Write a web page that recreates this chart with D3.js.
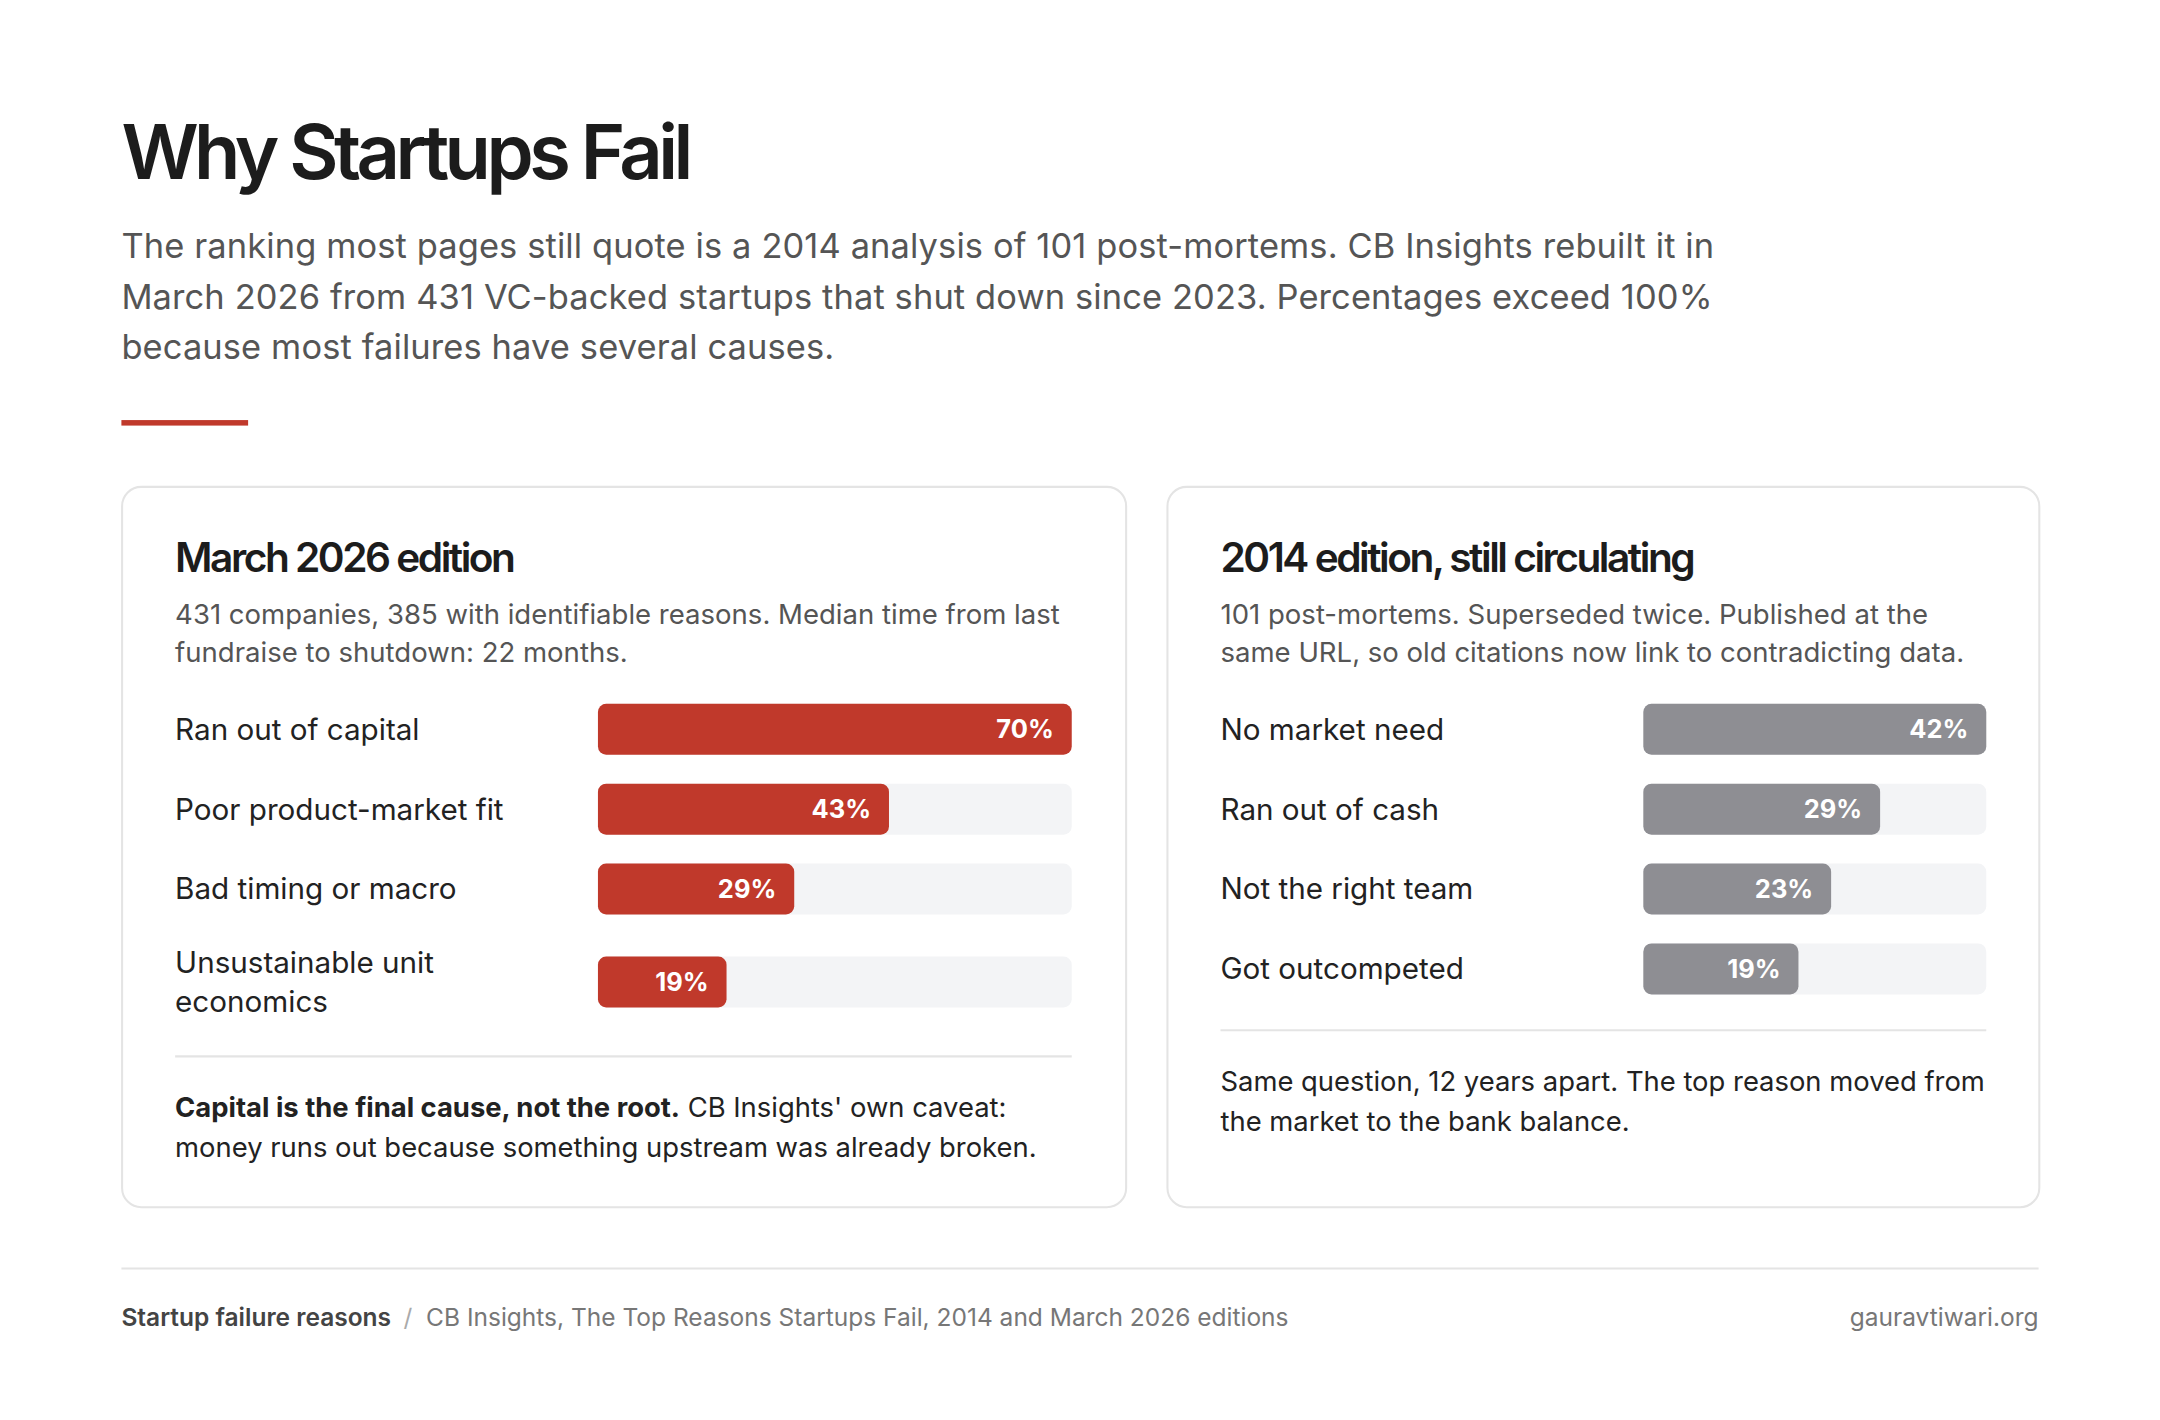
<!DOCTYPE html>
<html>
<head>
<meta charset="utf-8">
<script src="https://cdn.jsdelivr.net/npm/d3@7"></script>
<style>
  html, body { margin: 0; padding: 0; background: #fff; }
  svg { display: block; font-family: Inter, "Noto Sans", sans-serif; }
</style>
</head>
<body>
<svg id="chart"></svg>
<script>
// ---- data ----
const reasons2026 = ['Ran out of capital', 'Poor product-market fit', 'Bad timing or macro', 'Unsustainable unit|economics'];
const share2026 = [70, 43, 29, 19];
const reasons2014 = ['No market need', 'Ran out of cash', 'Not the right team', 'Got outcompeted'];
const share2014 = [42, 29, 23, 19];

const subtitleLines = [
  'The ranking most pages still quote is a 2014 analysis of 101 post-mortems. CB Insights rebuilt it in',
  'March 2026 from 431 VC-backed startups that shut down since 2023. Percentages exceed 100%',
  'because most failures have several causes.'
];

// ---- layout (drawn in a 1568-wide space, scaled to the window) ----
const W = 1568, H = 1031;
const RED = '#c0392b', GREY = '#8e8e93', TRACK = '#f3f4f6', RULE = '#e4e4e4';
const BAR_H = 37, LINE_H = 28, ROW_GAP = 21;

const svg = d3.select('#chart')
  .attr('width', 2160).attr('height', 1420)
  .attr('viewBox', [0, 0, W, H]);

svg.append('rect').attr('width', W).attr('height', H).attr('fill', '#fff');

svg.append('text')
  .attr('x', 88).attr('y', 130)
  .attr('font-size', 55).attr('font-weight', 600)
  .attr('letter-spacing', -3.3)
  .attr('fill', '#1c1c1c')
  .text('Why Startups Fail');

svg.append('g').selectAll('text')
  .data(subtitleLines).join('text')
  .attr('x', 88).attr('y', (d, i) => 187 + i * 37)
  .attr('font-size', 25).attr('letter-spacing', 0.09).attr('fill', '#555')
  .text(d => d);

svg.append('rect')
  .attr('x', 88).attr('y', 305).attr('width', 92).attr('height', 4)
  .attr('fill', RED);

function card(opts) {
  const { x, w, title, desc, labels, values, color, trackX, trackW, note } = opts;
  const g = svg.append('g');
  g.append('rect')
    .attr('x', x + 0.5).attr('y', 353.5).attr('width', w).attr('height', 523)
    .attr('rx', 14).attr('fill', '#fff').attr('stroke', RULE).attr('stroke-width', 1.5);

  const px = x + 39;
  g.append('text')
    .attr('x', px).attr('y', 415)
    .attr('font-size', 29.5).attr('font-weight', 600).attr('letter-spacing', -1.8)
    .attr('fill', '#1c1c1c')
    .text(title);

  g.append('g').selectAll('text')
    .data(desc).join('text')
    .attr('x', px).attr('y', (d, i) => 453 + i * 28)
    .attr('font-size', 20).attr('fill', '#555')
    .text(d => d);

  // rows stack from the top; a two-line label makes its row taller
  const rows = labels.map((l, i) => ({ lines: l.split('|'), value: values[i] }));
  let top = 511;
  rows.forEach(r => {
    const h = Math.max(BAR_H, r.lines.length * LINE_H);
    r.cy = top + h / 2;
    top += h + ROW_GAP;
  });

  const xScale = d3.scaleLinear().domain([0, d3.max(values)]).range([0, trackW]);

  const row = g.append('g').selectAll('g')
    .data(rows).join('g')
    .attr('transform', d => `translate(0,${d.cy})`);

  row.append('text')
    .attr('font-size', 21.5).attr('fill', '#222')
    .selectAll('tspan')
    .data(d => d.lines.map((t, i, a) => ({ t, off: (i - (a.length - 1) / 2) * LINE_H })))
    .join('tspan')
    .attr('x', px).attr('y', d => d.off + 7.5)
    .text(d => d.t);

  row.append('rect')
    .attr('x', trackX).attr('y', -BAR_H / 2).attr('width', trackW).attr('height', BAR_H)
    .attr('rx', 6).attr('fill', TRACK);

  row.append('rect')
    .attr('x', trackX).attr('y', -BAR_H / 2).attr('width', d => xScale(d.value)).attr('height', BAR_H)
    .attr('rx', 6).attr('fill', color);

  row.append('text')
    .attr('x', d => trackX + xScale(d.value) - 13).attr('y', 6.5)
    .attr('text-anchor', 'end')
    .attr('font-size', 18.5).attr('font-weight', 700).attr('fill', '#fff')
    .text(d => d.value + '%');

  const ruleY = top - ROW_GAP + 26;
  g.append('line')
    .attr('x1', px).attr('x2', trackX + trackW).attr('y1', ruleY).attr('y2', ruleY)
    .attr('stroke', RULE).attr('stroke-width', 1.5);

  const noteText = g.append('g').selectAll('text')
    .data(note).join('text')
    .attr('x', px).attr('y', (d, i) => ruleY + 44 + i * 29)
    .attr('font-size', 19.9).attr('fill', '#222');
  noteText.append('tspan').attr('font-weight', 700).text(d => d.bold);
  noteText.append('tspan').text(d => d.rest);
}

card({
  x: 88, w: 729,
  title: 'March 2026 edition',
  desc: ['431 companies, 385 with identifiable reasons. Median time from last',
         'fundraise to shutdown: 22 months.'],
  labels: reasons2026, values: share2026, color: RED,
  trackX: 434, trackW: 344,
  note: [{ bold: 'Capital is the final cause, not the root.', rest: ' CB Insights\' own caveat:' },
         { bold: '', rest: 'money runs out because something upstream was already broken.' }]
});

card({
  x: 847, w: 633,
  title: '2014 edition, still circulating',
  desc: ['101 post-mortems. Superseded twice. Published at the',
         'same URL, so old citations now link to contradicting data.'],
  labels: reasons2014, values: share2014, color: GREY,
  trackX: 1193, trackW: 249,
  note: [{ bold: '', rest: 'Same question, 12 years apart. The top reason moved from' },
         { bold: '', rest: 'the market to the bank balance.' }]
});

// ---- footer ----
svg.append('line')
  .attr('x1', 88).attr('x2', 1480).attr('y1', 921).attr('y2', 921)
  .attr('stroke', RULE).attr('stroke-width', 1.5);

const foot = svg.append('text')
  .attr('x', 88).attr('y', 963).attr('font-size', 17.8);
foot.append('tspan').attr('font-weight', 600).attr('fill', '#444').text('Startup failure reasons');
foot.append('tspan').attr('dx', 9).attr('fill', '#aaa').text('/');
foot.append('tspan').attr('dx', 10).attr('fill', '#777').text('CB Insights, The Top Reasons Startups Fail, 2014 and March 2026 editions');

svg.append('text')
  .attr('x', 1480).attr('y', 963).attr('text-anchor', 'end')
  .attr('font-size', 17.8).attr('fill', '#777')
  .text('gauravtiwari.org');
</script>
</body>
</html>
